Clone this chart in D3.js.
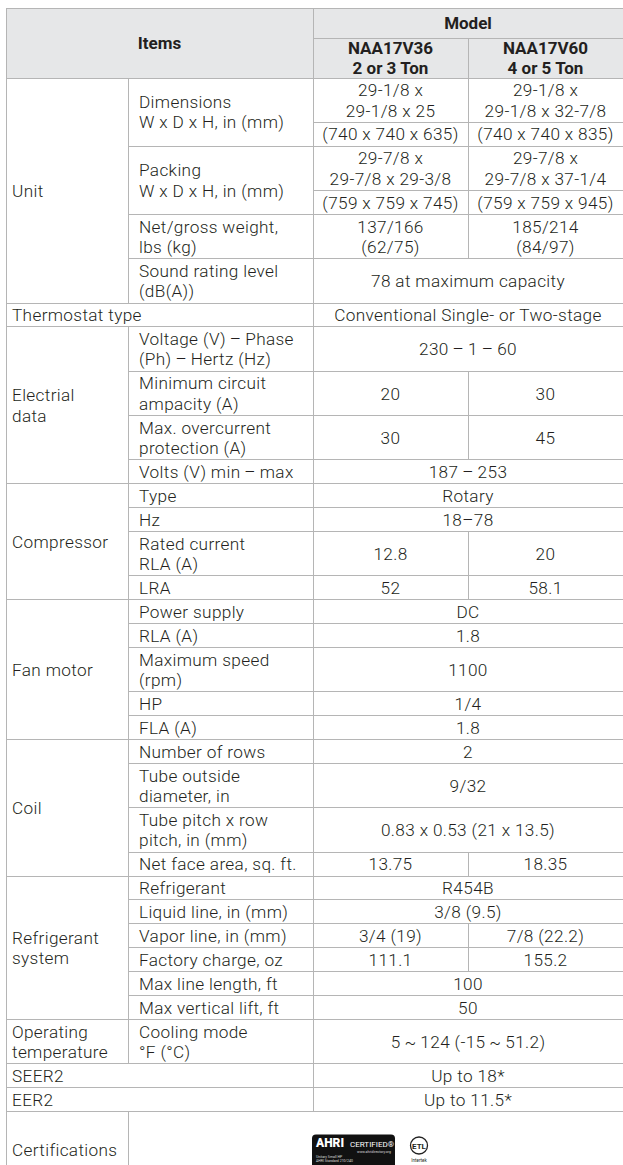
<!DOCTYPE html>
<html lang="en">
<head>
<meta charset="UTF-8">
<title>NAA17V spec table</title>
<script src="https://cdn.jsdelivr.net/npm/d3@7/dist/d3.min.js"></script>
<style>
  body { margin: 0; background: #fff; }
  svg text { font-family: Roboto, "Liberation Sans", sans-serif; fill: #231f20; }
</style>
</head>
<body>
<svg id="chart"></svg>
<script>
const W = 623, H = 1165;

// header texts
const itemsLabel = "Items";
const modelLabel = "Model";
const models = ["NAA17V36\n2 or 3 Ton", "NAA17V60\n4 or 5 Ton"];

// groups of rows: label, how many item rows, whether the label spans the item column
const groupNames = ["Unit", "Thermostat type", "Electrial\ndata", "Compressor", "Fan motor", "Coil",
  "Refrigerant\nsystem", "Operating\ntemperature", "SEER2", "EER2", "Certifications"];
const groupSizes = [4, 1, 4, 4, 5, 4, 6, 1, 1, 1, 1];
const groupMerged = [false, true, false, false, false, false, false, false, true, true, false];

const itemLabels = [
  "Dimensions\nW x D x H, in (mm)", "Packing\nW x D x H, in (mm)", "Net/gross weight,\nlbs (kg)", "Sound rating level\n(dB(A))",
  "",
  "Voltage (V)\u2009\u2013\u2009Phase\n(Ph)\u2009\u2013\u2009Hertz (Hz)", "Minimum circuit\nampacity (A)", "Max. overcurrent\nprotection (A)", "Volts (V) min\u2009\u2013\u2009max",
  "Type", "Hz", "Rated current\nRLA (A)", "LRA",
  "Power supply", "RLA (A)", "Maximum speed\n(rpm)", "HP", "FLA (A)",
  "Number of rows", "Tube outside\ndiameter, in", "Tube pitch x row\npitch, in (mm)", "Net face area, sq. ft.",
  "Refrigerant", "Liquid line, in (mm)", "Vapor line, in (mm)", "Factory charge, oz", "Max line length, ft", "Max vertical lift, ft",
  "Cooling mode\n\u00b0F (\u00b0C)",
  "", "", ""
];

// array value = cell split in two stacked sub-cells; null in values60 = value spans both models
const values36 = [
  ["29-1/8 x\n29-1/8 x 25", "(740 x 740 x 635)"], ["29-7/8 x\n29-7/8 x 29-3/8", "(759 x 759 x 745)"], "137/166\n(62/75)", "78 at maximum capacity",
  "Conventional Single- or Two-stage",
  "230\u2009\u2013\u20091\u2009\u2013\u200960", "20", "30", "187\u2009\u2013\u2009253",
  "Rotary", "18\u201378", "12.8", "52",
  "DC", "1.8", "1100", "1/4", "1.8",
  "2", "9/32", "0.83 x 0.53 (21 x 13.5)", "13.75",
  "R454B", "3/8 (9.5)", "3/4 (19)", "111.1", "100", "50",
  "5\u2009~\u2009124 (-15\u2009~\u200951.2)",
  "Up to 18*", "Up to 11.5*", "LOGOS"
];
const values60 = [
  ["29-1/8 x\n29-1/8 x 32-7/8", "(740 x 740 x 835)"], ["29-7/8 x\n29-7/8 x 37-1/4", "(759 x 759 x 945)"], "185/214\n(84/97)", null,
  null,
  null, "30", "45", null,
  null, null, "20", "58.1",
  null, null, null, null, null,
  null, null, null, "18.35",
  null, null, "7/8 (22.2)", "155.2", null, null,
  null,
  null, null, null
];

const svg = d3.select("#chart").attr("width", W).attr("height", H);
svg.append("rect").attr("width", W).attr("height", H).attr("fill", "#fff");

const col = d3.scaleOrdinal()
  .domain(["group", "item", "m36", "m60", "end"])
  .range([6, 128, 313, 468, 623]);

const FS = 17.2, LH = 20.4, PAD = 3.5;
const lineColor = "#b5b5b5";
const yTop = 8, modelBottom = 38, headBottom = 78;
const nLines = s => (s ? s.split("\n").length : 1);
const rowH = n => PAD + n * LH;

// build rows
const rows = [];
groupSizes.forEach((size, g) => {
  for (let j = 0; j < size; j++) {
    const i = rows.length;
    rows.push({ i, g, first: j === 0, last: j === size - 1, merged: groupMerged[g],
      item: itemLabels[i], v36: values36[i], v60: values60[i] });
  }
});

let yPos = headBottom;
rows.forEach(r => {
  if (r.v36 === "LOGOS") { r.h = 90; }
  else if (Array.isArray(r.v36)) {
    r.subTop = rowH(nLines(r.v36[0]));
    r.h = r.subTop + rowH(nLines(r.v36[1]));
  } else {
    r.h = rowH(Math.max(nLines(r.item), nLines(r.v36), nLines(r.v60)));
  }
  r.y = yPos; yPos += r.h;
});
// group extents
const groups = groupNames.map((name, g) => {
  const rs = rows.filter(r => r.g === g);
  return { name, g, y0: rs[0].y, y1: rs[rs.length - 1].y + rs[rs.length - 1].h, merged: groupMerged[g] };
});

// header background
svg.append("rect").attr("x", col("group")).attr("y", yTop)
  .attr("width", col("end") - col("group")).attr("height", headBottom - yTop).attr("fill", "#e6e7e8");

function drawText(str, x, cy, anchor, opts = {}) {
  const parts = str.split("\n");
  const t = svg.append("text").attr("text-anchor", anchor)
    .attr("font-size", opts.size || FS).attr("font-weight", opts.weight || 300)
    .attr("letter-spacing", opts.weight ? 0 : 0.35);
  parts.forEach((ln, idx) => {
    t.append("tspan").attr("x", x)
      .attr("y", cy + (idx - (parts.length - 1) / 2) * LH)
      .attr("dy", "0.36em").text(ln);
  });
}

const grid = svg.append("g").attr("stroke", lineColor).attr("stroke-width", 1).attr("shape-rendering", "crispEdges");
function hline(x0, x1, yy) { grid.append("line").attr("x1", x0).attr("x2", x1).attr("y1", yy).attr("y2", yy); }
function vline(xx, y0, y1) { grid.append("line").attr("x1", xx).attr("x2", xx).attr("y1", y0).attr("y2", y1); }

// header
const bold = { weight: 700, size: 17 };
drawText(itemsLabel, (col("group") + col("m36")) / 2, (yTop + headBottom) / 2, "middle", bold);
drawText(modelLabel, (col("m36") + col("end")) / 2, (yTop + modelBottom) / 2, "middle", bold);
drawText(models[0], (col("m36") + col("m60")) / 2, (modelBottom + headBottom) / 2, "middle", bold);
drawText(models[1], (col("m60") + col("end")) / 2, (modelBottom + headBottom) / 2, "middle", bold);
hline(col("group"), col("end"), yTop);
hline(col("m36"), col("end"), modelBottom);
hline(col("group"), col("end"), headBottom);
vline(col("group"), yTop, H);
vline(col("m36"), yTop, headBottom);
vline(col("m60"), modelBottom, headBottom);

// group labels
groups.forEach(gr => {
  const cy = gr.g === groups.length - 1 ? gr.y0 + 38 : (gr.y0 + gr.y1) / 2;
  drawText(gr.name, col("group") + 6, cy, "start");
  if (!gr.merged) vline(col("item"), gr.y0, Math.min(gr.y1, H));
  hline(col("group"), col("end"), gr.y1);
});

// rows
rows.forEach(r => {
  const cy = r.y + r.h / 2;
  if (!r.merged && r.item) drawText(r.item, col("item") + 11, cy, "start");
  if (!r.last) hline(col("item"), col("end"), r.y + r.h);
  if (r.v36 === "LOGOS") return;
  vline(col("m36"), r.y, r.y + r.h);
  const c36 = (col("m36") + col("m60")) / 2, c60 = (col("m60") + col("end")) / 2;
  if (Array.isArray(r.v36)) {
    hline(col("m36"), col("end"), r.y + r.subTop);
    vline(col("m60"), r.y, r.y + r.h);
    drawText(r.v36[0], c36, r.y + r.subTop / 2, "middle");
    drawText(r.v60[0], c60, r.y + r.subTop / 2, "middle");
    drawText(r.v36[1], c36, r.y + r.subTop + (r.h - r.subTop) / 2, "middle");
    drawText(r.v60[1], c60, r.y + r.subTop + (r.h - r.subTop) / 2, "middle");
  } else if (r.v60 === null) {
    drawText(r.v36, (col("m36") + col("end")) / 2, cy, "middle");
  } else {
    vline(col("m60"), r.y, r.y + r.h);
    drawText(r.v36, c36, cy, "middle");
    drawText(r.v60, c60, cy, "middle");
  }
});

// certification marks
const cert = rows[rows.length - 1];
const bx = col("m36") - 1, by = cert.y + 23;
const badge = svg.append("g").attr("transform", `translate(${bx},${by})`);
badge.append("rect").attr("width", 83).attr("height", 56).attr("rx", 4).attr("fill", "#111");
badge.append("text").attr("x", 4).attr("y", 12).attr("font-size", 12).attr("font-weight", 900)
  .style("fill", "#fff").text("AHRI");
badge.append("text").attr("x", 38).attr("y", 12).attr("font-size", 8).attr("font-weight", 400)
  .style("fill", "#fff").text("CERTIFIED\u00ae");
badge.append("text").attr("x", 45).attr("y", 18).attr("font-size", 3.5).style("fill", "#ddd").text("www.ahridirectory.org");
badge.append("text").attr("x", 4).attr("y", 23.5).attr("font-size", 3.5).style("fill", "#ddd").text("Unitary Small HP");
badge.append("text").attr("x", 4).attr("y", 27.5).attr("font-size", 3.5).style("fill", "#ddd").text("AHRI Standard 210/240");
const etl = svg.append("g").attr("transform", `translate(${bx + 107},${by + 11})`);
etl.append("circle").attr("r", 8.5).attr("fill", "none").attr("stroke", "#222").attr("stroke-width", 1.3);
etl.append("text").attr("text-anchor", "middle").attr("y", 3).attr("font-size", 8).attr("font-weight", 700).text("ETL");
etl.append("text").attr("text-anchor", "middle").attr("y", 16).attr("font-size", 4.5).attr("font-weight", 400).text("Intertek");
</script>
</body>
</html>
